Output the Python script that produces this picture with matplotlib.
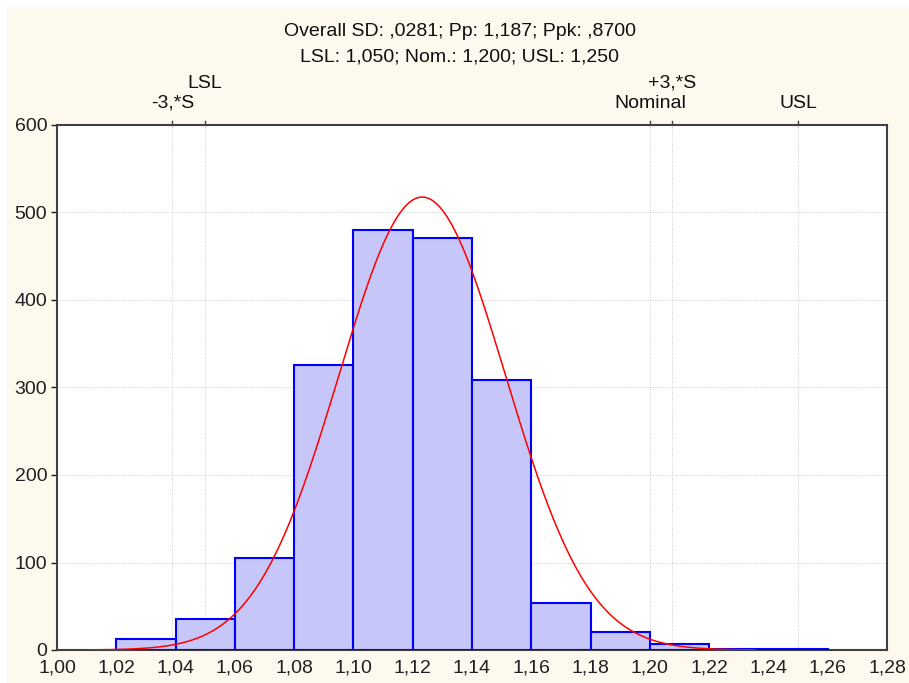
import numpy as np
import matplotlib
matplotlib.use('Agg')
import matplotlib.pyplot as plt
from matplotlib.patches import Rectangle
from matplotlib.ticker import FuncFormatter

plt.rcParams['font.family'] = ['Liberation Sans', 'DejaVu Sans']

# histogram data (bin edges + counts)
bin_edges = [1.02, 1.04, 1.06, 1.08, 1.10, 1.12, 1.14, 1.16, 1.18, 1.20, 1.22, 1.24, 1.26]
counts = [13, 35, 105, 326, 480, 471, 309, 54, 21, 7, 1, 1]

# process stats
mean = 1.1232
sd = 0.0281
lsl = 1.050
nominal = 1.200
usl = 1.250
title_lines = ["Overall SD: ,0281; Pp: 1,187; Ppk: ,8700",
               "LSL: 1,050; Nom.: 1,200; USL: 1,250"]

# reference lines on top: (x, label, row) row 0 = lower, 1 = upper
ref_lines = [(mean - 3 * sd, "-3,*S", 0), (lsl, "LSL", 1),
             (nominal, "Nominal", 0), (mean + 3 * sd, "+3,*S", 1),
             (usl, "USL", 0)]

fig = plt.figure(figsize=(9.09, 6.83), dpi=100, facecolor='white')
fig.patches.append(Rectangle((7 / 909, 0), 1, 1 - 7 / 683, transform=fig.transFigure,
                             facecolor='#fdf9ee', edgecolor='none', zorder=-10))
ax = fig.add_axes([57 / 909, 1 - 650 / 683, 830 / 909, 525 / 683])
ax.set_facecolor('white')

widths = np.diff(bin_edges)
ax.bar(bin_edges[:-1], counts, width=widths, align='edge',
       facecolor='#c6c6f8', edgecolor='#0000ff', linewidth=1.5, zorder=3)

# fitted normal curve
n = sum(counts)
bw = 0.02
xs = np.linspace(mean - 4 * sd, mean + 4 * sd, 400)
ys = n * bw / (sd * np.sqrt(2 * np.pi)) * np.exp(-0.5 * ((xs - mean) / sd) ** 2)
ax.plot(xs, ys, color='red', linewidth=1.1, zorder=4)

ax.set_xlim(1.00, 1.28)
ax.set_ylim(0, 600)
ax.set_xticks(np.arange(1.00, 1.2801, 0.02))
ax.set_yticks(range(0, 601, 100))
ax.xaxis.set_major_formatter(FuncFormatter(lambda v, p: ('%.2f' % v).replace('.', ',')))
ax.tick_params(axis='x', length=0, labelsize=14, pad=7)
ax.tick_params(axis='y', length=4, width=1, direction='out', labelsize=14, pad=3)
ax.tick_params(colors='#202020')
ax.yaxis.grid(True, linestyle=(0, (1, 1.5)), color='#cccccc', linewidth=0.7)
ax.set_axisbelow(True)

for x, lab, row in ref_lines:
    ax.axvline(x, color='#cccccc', linestyle=(0, (1, 1.5)), linewidth=0.7, zorder=1)
    ax.plot([x, x], [600, 605], color='#404040', linewidth=1, clip_on=False)
    ax.text(x, 615 + row * 23, lab, ha='center', va='bottom', fontsize=14, color='#101010')

for s in ax.spines.values():
    s.set_color('#404040')
    s.set_linewidth(1.5)

fig.text(460 / 909, 1 - 32 / 683, title_lines[0], ha='center', va='center', fontsize=14, color='#101010')
fig.text(460 / 909, 1 - 57 / 683, title_lines[1], ha='center', va='center', fontsize=14, color='#101010')

fig.savefig('out.png', dpi=100, facecolor=fig.get_facecolor())
